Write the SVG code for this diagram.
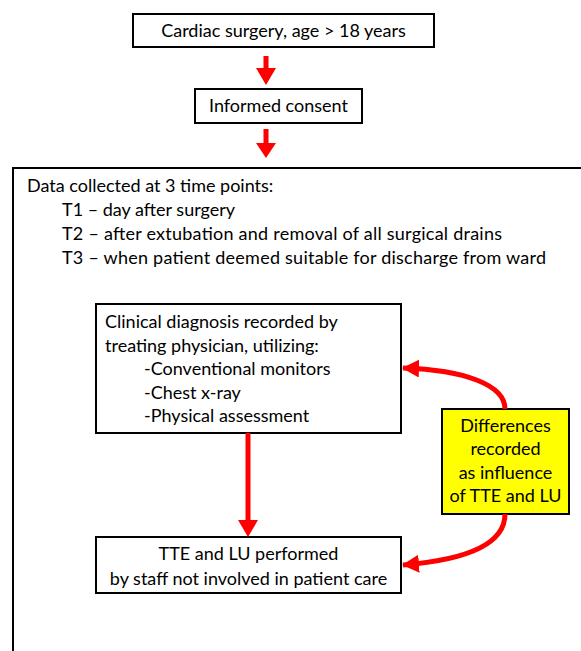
<svg xmlns="http://www.w3.org/2000/svg" width="581" height="651" viewBox="0 0 581 651">
<style>
  .box { fill: #ffffff; stroke: #000000; stroke-width: 2; }
  .ybox { fill: #ffff00; stroke: #000000; stroke-width: 2; }
  .t { font-family: Lato, "Liberation Sans", sans-serif; font-size: 18px; fill: #000000; }
  .c { text-anchor: middle; }
  .arr { fill: none; stroke: #ff0000; stroke-width: 5; }
</style>
<defs>
  <marker id="ah" markerUnits="userSpaceOnUse" markerWidth="18" markerHeight="18" viewBox="0 0 18 18" refX="16" refY="9" orient="auto">
    <path d="M0,0 L17,9 L0,18 z" fill="#ff0000"/>
  </marker>
</defs>
<rect width="581" height="651" fill="#ffffff"/>

<g id="frame">
  <rect class="box" x="13" y="168" width="580" height="500"/>
  <text class="t" x="27" y="192">Data collected at 3 time points:</text>
  <text class="t" x="62" y="216">T1 – day after surgery</text>
  <text class="t" x="62" y="240" textLength="440" lengthAdjust="spacing">T2 – after extubation and removal of all surgical drains</text>
  <text class="t" x="62" y="264" textLength="484" lengthAdjust="spacing">T3 – when patient deemed suitable for discharge from ward</text>
</g>

<g id="n1">
  <rect class="box" x="133" y="14" width="301" height="33"/>
  <text class="t c" x="283.5" y="37">Cardiac surgery, age &gt; 18 years</text>
</g>

<g id="n2">
  <rect class="box" x="195" y="89" width="167" height="34"/>
  <text class="t c" x="278.5" y="112">Informed consent</text>
</g>

<g id="n3">
  <rect class="box" x="96" y="304" width="305" height="129"/>
  <text class="t" x="105" y="328">Clinical diagnosis recorded by</text>
  <text class="t" x="105" y="352">treating physician, utilizing:</text>
  <text class="t" x="144" y="375">-Conventional monitors</text>
  <text class="t" x="144" y="399">-Chest x-ray</text>
  <text class="t" x="144" y="422">-Physical assessment</text>
</g>

<g id="n4">
  <rect class="ybox" x="442" y="409" width="127" height="105"/>
  <text class="t c" x="505.5" y="432">Differences</text>
  <text class="t c" x="505.5" y="455">recorded</text>
  <text class="t c" x="505.5" y="479">as influence</text>
  <text class="t c" x="505.5" y="502">of TTE and LU</text>
</g>

<g id="n5">
  <rect class="box" x="96" y="537" width="305" height="56"/>
  <text class="t c" x="248.5" y="560">TTE and LU performed</text>
  <text class="t c" x="248.5" y="585">by staff not involved in patient care</text>
</g>

<g id="connectors">
  <path d="M263.5,56 h5 v12 h7.5 l-10,17 l-10,-17 h7.5 z" fill="#ff0000"/>
  <path d="M263.5,129 h5 v14 h7.5 l-10,15 l-10,-15 h7.5 z" fill="#ff0000"/>
  <path d="M245.5,433 h5 v87 h7.5 l-10,17 l-10,-17 h7.5 z" fill="#ff0000"/>
  <path class="arr" d="M505,409 C505,385 465,370 403,368" marker-end="url(#ah)"/>
  <path class="arr" d="M505,514 C505,545 465,560 403,565" marker-end="url(#ah)"/>
</g>
</svg>
